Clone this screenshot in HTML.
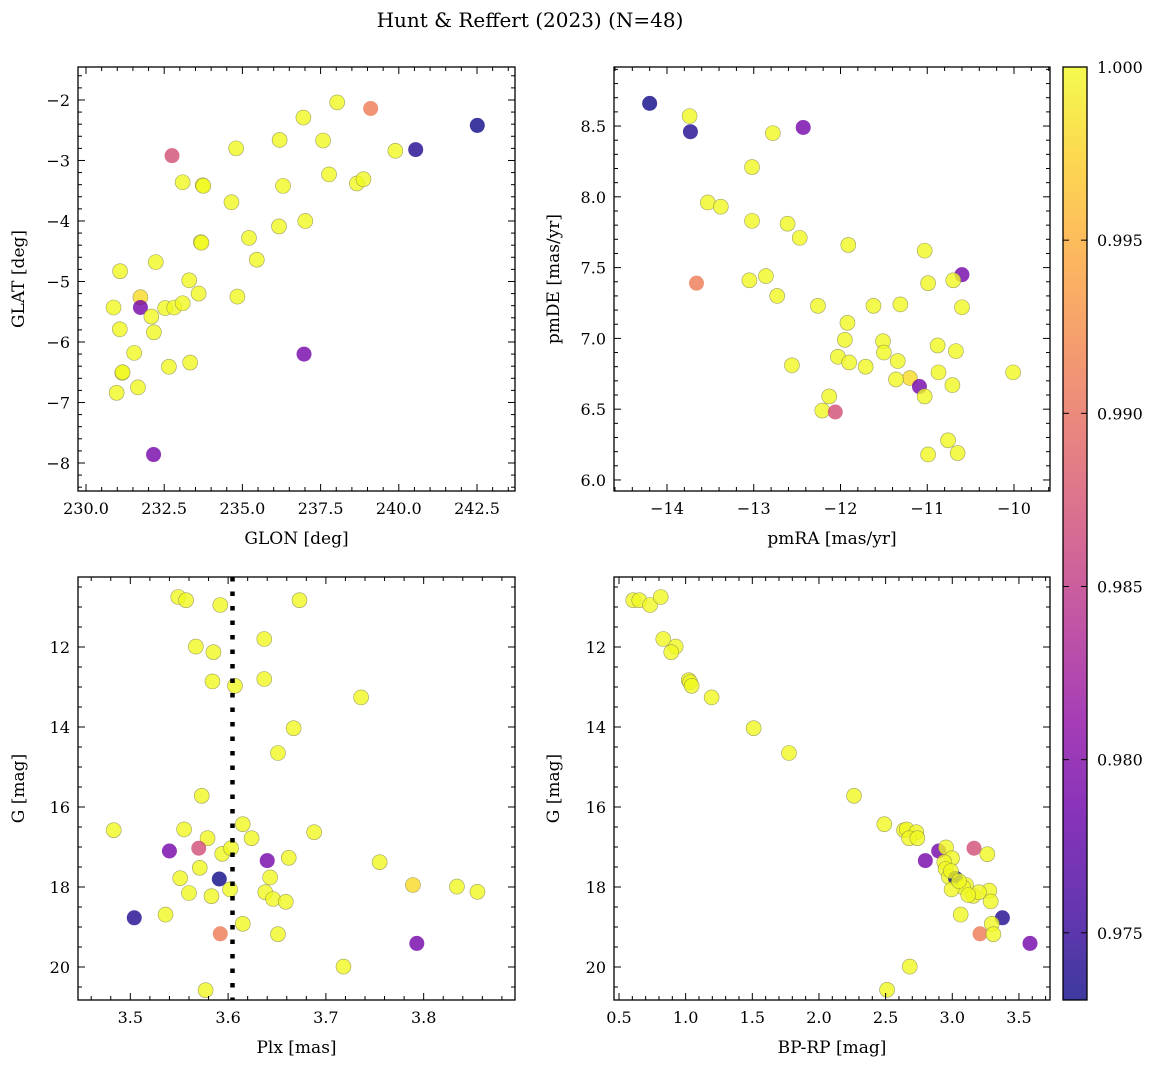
<!DOCTYPE html>
<html><head><meta charset="utf-8"><style>
body{margin:0;background:#fff;}
svg{display:block;font-family:"DejaVu Serif","Liberation Serif",serif;}
</style></head><body>
<svg id="fig" width="1161" height="1067" viewBox="0 0 1161 1067" xmlns="http://www.w3.org/2000/svg">
<defs><linearGradient id="plasma" x1="0" y1="1" x2="0" y2="0">
<stop offset="0" stop-color="#0d0887"/><stop offset="0.1" stop-color="#41049d"/><stop offset="0.2" stop-color="#6a00a8"/><stop offset="0.3" stop-color="#8f0da4"/><stop offset="0.4" stop-color="#b12a90"/><stop offset="0.5" stop-color="#cc4778"/><stop offset="0.6" stop-color="#e16462"/><stop offset="0.7" stop-color="#f2844b"/><stop offset="0.8" stop-color="#fca636"/><stop offset="0.9" stop-color="#fcce25"/><stop offset="1" stop-color="#f0f921"/>
</linearGradient></defs>
<text x="530" y="27" text-anchor="middle" font-size="20">Hunt &amp; Reffert (2023) (N=48)</text>
</svg>
<script>
// Panel 1: GLON vs GLAT
const p1X=[238.03,239.10,242.51,236.95,236.19,237.58,234.80,232.75,239.89,240.54,233.09,233.73,233.75,236.30,237.77,238.66,238.87,234.65,236.17,237.01,233.67,233.69,235.21,235.46,232.23,231.09,233.30,231.74,233.60,234.84,230.88,231.74,232.53,232.82,233.09,232.09,231.08,232.17,231.54,236.97,232.65,233.33,231.16,231.17,231.66,230.98,232.16];
const p1Y=[-2.04,-2.14,-2.42,-2.29,-2.66,-2.67,-2.80,-2.92,-2.84,-2.82,-3.36,-3.41,-3.42,-3.42,-3.23,-3.38,-3.31,-3.69,-4.09,-4.00,-4.35,-4.36,-4.28,-4.64,-4.68,-4.83,-4.98,-5.26,-5.20,-5.25,-5.43,-5.43,-5.44,-5.43,-5.36,-5.58,-5.79,-5.84,-6.18,-6.20,-6.41,-6.34,-6.51,-6.50,-6.75,-6.84,-7.86];
const p1C=[1,0.991,0.973,1,1,1,1,0.987,1,0.974,1,1,1,1,1,1,1,1,1,1,1,1,1,1,1,1,1,0.998,1,1,1,0.979,1,1,1,1,1,1,1,0.979,1,1,1,1,1,1,0.979];
// Panel 2: pmRA vs pmDE
const p2X=[-14.20,-13.74,-13.73,-12.78,-12.43,-13.02,-13.53,-13.38,-13.02,-12.61,-12.47,-11.91,-11.03,-10.60,-10.70,-10.99,-13.66,-13.05,-12.86,-12.73,-12.26,-11.62,-11.31,-10.60,-11.92,-11.95,-11.51,-10.88,-10.67,-11.50,-12.03,-11.90,-11.34,-11.71,-12.56,-10.01,-10.87,-11.20,-11.36,-11.09,-10.71,-11.03,-12.13,-12.21,-12.06,-10.76,-10.65,-10.99];
const p2Y=[8.66,8.57,8.46,8.45,8.49,8.21,7.96,7.93,7.83,7.81,7.71,7.66,7.62,7.45,7.41,7.39,7.39,7.41,7.44,7.30,7.23,7.23,7.24,7.22,7.11,6.99,6.98,6.95,6.91,6.90,6.87,6.83,6.84,6.80,6.81,6.76,6.76,6.72,6.71,6.66,6.67,6.59,6.59,6.49,6.48,6.28,6.19,6.18];
const p2C=[0.973,1,0.974,1,0.979,1,1,1,1,1,1,1,1,0.979,1,1,0.991,1,1,1,1,1,1,1,1,1,1,1,1,1,1,1,1,1,1,1,1,0.998,1,0.979,1,1,1,1,0.987,1,1,1];
// Panel 3: Plx vs G
const p3X=[3.549,3.557,3.592,3.673,3.637,3.567,3.585,3.584,3.607,3.637,3.736,3.667,3.651,3.573,3.483,3.555,3.615,3.688,3.579,3.624,3.540,3.570,3.594,3.603,3.640,3.662,3.755,3.571,3.551,3.591,3.643,3.789,3.834,3.855,3.560,3.583,3.602,3.638,3.646,3.659,3.504,3.536,3.615,3.592,3.651,3.793,3.718,3.577];
const p3Y=[10.75,10.83,10.95,10.83,11.80,11.99,12.13,12.86,12.97,12.80,13.26,14.03,14.65,15.72,16.58,16.56,16.43,16.63,16.78,16.78,17.10,17.03,17.17,17.03,17.34,17.27,17.38,17.52,17.78,17.80,17.76,17.95,17.99,18.12,18.15,18.23,18.06,18.13,18.30,18.37,18.77,18.69,18.92,19.17,19.18,19.41,19.99,20.58];
const p3C=[1,1,1,1,1,1,1,1,1,1,1,1,1,1,1,1,1,1,1,1,0.979,0.987,1,1,0.979,1,1,1,1,0.973,1,0.998,1,1,1,1,1,1,1,1,0.974,1,1,0.991,1,0.979,1,1];
const plxLine=[3.6045];
// Panel 4: BP-RP vs G
const p4X=[0.607,0.652,0.733,0.813,0.832,0.925,0.892,1.023,1.033,1.045,1.195,1.510,1.775,2.263,2.490,2.638,2.658,2.730,2.676,2.738,2.898,3.163,2.953,2.998,2.798,3.263,2.940,2.950,2.975,3.025,3.103,3.278,3.288,3.083,3.158,3.200,2.995,3.063,3.376,3.296,3.208,3.308,3.583,2.681,2.511,2.990,3.050,3.120];
const p4Y=[10.83,10.83,10.95,10.75,11.80,11.99,12.13,12.83,12.88,12.97,13.26,14.03,14.65,15.72,16.43,16.58,16.56,16.63,16.78,16.78,17.10,17.03,17.01,17.28,17.34,17.18,17.38,17.55,17.75,17.78,17.95,18.09,18.36,18.01,18.22,18.13,18.06,18.69,18.77,18.92,19.17,19.18,19.41,19.99,20.57,17.60,17.85,18.20];
const p4C=[1,1,1,1,1,1,1,1,1,1,1,1,1,1,1,1,1,1,1,1,0.979,0.987,1,1,0.979,1,1,1,1,0.973,1,1,1,1,1,1,1,1,0.974,1,0.991,1,0.979,1,1,1,1,1];
const cbTicks=[0.975,0.980,0.985,0.990,0.995,1.000];

const NS='http://www.w3.org/2000/svg';
const svg=document.getElementById('fig');
const stops=[[0,13,8,135],[0.1,65,4,157],[0.2,106,0,168],[0.3,143,13,164],[0.4,177,42,144],[0.5,204,71,120],[0.6,225,100,98],[0.7,242,132,75],[0.8,252,166,54],[0.9,252,206,37],[1,240,249,33]];
const CMIN=0.97306,CMAX=1.0;
function cmap(v){let t=Math.max(0,Math.min(1,(v-CMIN)/(CMAX-CMIN)));for(let i=1;i<stops.length;i++){if(t<=stops[i][0]){const a=stops[i-1],b=stops[i];const f=(t-a[0])/(b[0]-a[0]);return `rgb(${Math.round(a[1]+f*(b[1]-a[1]))},${Math.round(a[2]+f*(b[2]-a[2]))},${Math.round(a[3]+f*(b[3]-a[3]))})`;}}return 'rgb(240,249,33)';}
function mk(tag,attrs,parent){const e=document.createElementNS(NS,tag);for(const k in attrs)e.setAttribute(k,attrs[k]);(parent||svg).appendChild(e);return e;}
function fmt(v,d){return (v<0?'\u2212':'')+Math.abs(v).toFixed(d);}

function panel(cfg){
  const {L,T,R,B,x0,x1,y0,y1,inv}=cfg;
  const g=mk('g',{});
  
  
  const sx=v=>L+(v-x0)/(x1-x0)*(R-L);
  const sy=v=>inv?T+(v-y0)/(y1-y0)*(B-T):B-(v-y0)/(y1-y0)*(B-T);
  for(let i=0;i<cfg.xs.length;i++){
    const c=mk('circle',{cx:sx(cfg.xs[i]),cy:sy(cfg.ys[i]),r:7.5,fill:cmap(cfg.cs[i]),'fill-opacity':0.8,stroke:cfg.cs[i]>0.995?'#8a8a50':'none','stroke-width':0.6,'stroke-opacity':0.8},g);
    
    
  }
  if(cfg.vline){for(const v of cfg.vline){const l=mk('line',{x1:sx(v),x2:sx(v),y1:T,y2:B,stroke:'#000','stroke-width':4.5,'stroke-dasharray':'4.5 10'},g);
    
    }}
  const tk=mk('g',{stroke:'#000','stroke-width':1},g);
  for(let v=Math.ceil(x0/cfg.xmin-1e-9)*cfg.xmin;v<=x1+1e-9;v+=cfg.xmin){const px=sx(v);const maj=Math.abs(v/cfg.xmaj-Math.round(v/cfg.xmaj))<1e-6;const len=maj?7:4;
    mk('line',{x1:px,x2:px,y1:B,y2:B-len},tk);mk('line',{x1:px,x2:px,y1:T,y2:T+len},tk);
    if(maj){const t=mk('text',{x:px,y:B+23,'text-anchor':'middle','font-size':16,stroke:'none',fill:'#000'},g);t.textContent=fmt(Math.round(v/cfg.xmaj)*cfg.xmaj,cfg.xd);
      
      }}
  const ylo=Math.min(y0,y1),yhi=Math.max(y0,y1);
  for(let v=Math.ceil(ylo/cfg.ymin-1e-9)*cfg.ymin;v<=yhi+1e-9;v+=cfg.ymin){const py=sy(v);const maj=Math.abs(v/cfg.ymaj-Math.round(v/cfg.ymaj))<1e-6;const len=maj?7:4;
    mk('line',{x1:L,x2:L+len,y1:py,y2:py},tk);mk('line',{x1:R,x2:R-len,y1:py,y2:py},tk);
    if(maj){const t=mk('text',{x:L-8,y:py+6,'text-anchor':'end','font-size':16,stroke:'none',fill:'#000'},g);t.textContent=fmt(Math.round(v/cfg.ymaj)*cfg.ymaj,cfg.yd);
      
      }}
  const fr=mk('rect',{x:L,y:T,width:R-L,height:B-T,fill:'none',stroke:'#000','stroke-width':1.3},g);
  
  
  const xl=mk('text',{x:(L+R)/2,y:B+53,'text-anchor':'middle','font-size':17},g);xl.textContent=cfg.xlab;
  
  
  const yx=cfg.ylx, yy=(T+B)/2;
  const yl=mk('text',{x:yx,y:yy,'text-anchor':'middle','font-size':17,transform:`rotate(-90 ${yx} ${yy})`},g);yl.textContent=cfg.ylab;
  
  
}
panel({name:'glon-glat-panel',L:78,T:67,R:515,B:491,x0:229.744,x1:243.715,y0:-8.463,y1:-1.455,xs:p1X,ys:p1Y,cs:p1C,xmaj:2.5,xmin:0.5,ymaj:1,ymin:0.2,xd:1,yd:0,xlab:'GLON [deg]',ylab:'GLAT [deg]',ylx:24});
panel({name:'propermotion-panel',L:614,T:67,R:1050,B:491,x0:-14.611,x1:-9.585,y0:5.922,y1:8.917,xs:p2X,ys:p2Y,cs:p2C,xmaj:1,xmin:0.2,ymaj:0.5,ymin:0.1,xd:0,yd:1,xlab:'pmRA [mas/yr]',ylab:'pmDE [mas/yr]',ylx:559});
panel({name:'parallax-panel',L:78,T:577,R:515,B:1000,x0:3.4465,x1:3.8934,y0:10.25,y1:20.825,inv:true,xs:p3X,ys:p3Y,cs:p3C,xmaj:0.1,xmin:0.02,ymaj:2,ymin:0.5,xd:1,yd:0,xlab:'Plx [mas]',ylab:'G [mag]',ylx:24,vline:plxLine});
panel({name:'cmd-panel',L:614,T:577,R:1050,B:1000,x0:0.4625,x1:3.733,y0:10.25,y1:20.825,inv:true,xs:p4X,ys:p4Y,cs:p4C,xmaj:0.5,xmin:0.1,ymaj:2,ymin:0.5,xd:1,yd:0,xlab:'BP-RP [mag]',ylab:'G [mag]',ylx:559});

const cb=mk('g',{});


const cL=1063,cR=1087,cT=67,cB=1000;
mk('rect',{x:cL,y:cT,width:cR-cL,height:cB-cT,fill:'url(#plasma)','fill-opacity':0.8},cb);
const csy=v=>cB-(v-CMIN)/(CMAX-CMIN)*(cB-cT);
for(const v of cbTicks){const py=csy(v);
  mk('line',{x1:cR,x2:cR-6,y1:py,y2:py,stroke:'#000'},cb);mk('line',{x1:cL,x2:cL+6,y1:py,y2:py,stroke:'#000'},cb);
  const t=mk('text',{x:cR+10,y:py+6,'font-size':16},cb);t.textContent=v.toFixed(3);
  
  }
mk('rect',{x:cL,y:cT,width:cR-cL,height:cB-cT,fill:'none',stroke:'#000','stroke-width':1.3},cb);
</script>
</body></html>
